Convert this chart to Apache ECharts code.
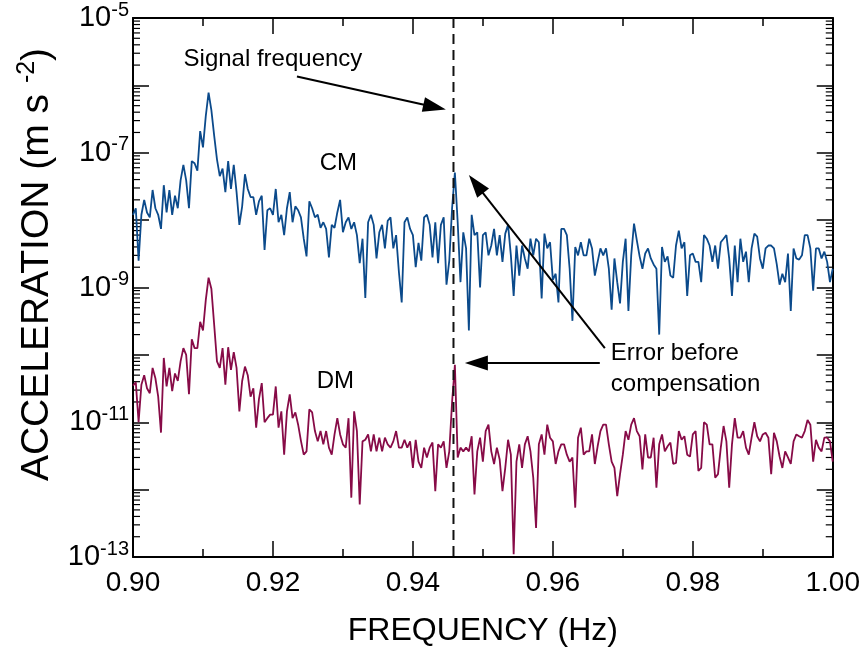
<!DOCTYPE html>
<html>
<head>
<meta charset="utf-8">
<script src="https://cdn.jsdelivr.net/npm/echarts@6/dist/echarts.min.js"></script>
<style>
html,body{margin:0;padding:0;background:#fff;}
#chart{width:863px;height:655px;}
</style>
</head>
<body>
<div id="chart"></div>
<script>
// ---- data ----
const freqStart = 0.90;          // Hz, first spectral bin
const freqStep = 0.0004;         // Hz, bin spacing
const xTickLabels = ['0.90','0.92','0.94','0.96','0.98','1.00'];
const yTickLabels = ['10^-5','10^-7','10^-9','10^-11','10^-13'];
const signalFrequency = 0.9458;

// Common-mode acceleration spectrum (m s^-2)
const cmValues = [
1.2e-8,1.5e-8,2.5e-9,1.2e-8,2e-8,1.3e-8,1.1e-8,2.8e-8,1.5e-8,1.2e-8,
7.4e-9,3.3e-8,1.3e-8,2.8e-8,1.2e-8,2.3e-8,1.5e-8,3.9e-8,6.6e-8,3.9e-8,
1.5e-8,7.5e-8,7e-8,5.4e-8,2.1e-7,1.2e-7,3.5e-7,7.8e-7,4.3e-7,1.8e-7,
8e-8,4.5e-8,5.8e-8,2.6e-8,7.5e-8,2.9e-8,6.6e-8,2.6e-8,8.5e-9,1.6e-8,
4.8e-8,2.9e-8,2.2e-8,2.2e-8,1.2e-8,1.9e-8,2.3e-8,3.6e-9,1.4e-8,1.5e-8,
1.2e-8,2.9e-8,9.3e-9,1.2e-8,6e-9,1.5e-8,2.6e-8,9.3e-9,1.6e-8,1.4e-8,
1.1e-8,5.3e-9,2.9e-9,1.9e-8,
1.5e-8,1.1e-8,1.2e-8,7.7e-9,9.3e-9,7.4e-9,2.8e-9,8.5e-9,7.7e-9,1.3e-8,
2e-8,6.6e-9,9.3e-9,1.1e-8,7.4e-9,9.3e-9,6e-9,2.3e-9,5.3e-9,7e-10,
9.3e-9,1.2e-8,8.5e-9,2.7e-9,6.6e-9,8.5e-9,3.8e-9,9.8e-9,1.1e-8,3.8e-9,
6e-9,1.7e-9,6e-10,9.3e-9,1.1e-8,7.4e-9,6e-9,2e-9,4.6e-9,2.5e-9,
1.1e-8,1.2e-8,8.5e-9,2.8e-9,9.3e-9,2.3e-9,8.5e-9,1.1e-8,1.1e-9,2.5e-9,
1.5e-8,5.1e-8,9.3e-9,1.2e-9,6.6e-9,3.8e-9,2.3e-10,1.2e-8,6e-9,6.6e-9,
1e-9,6e-9,
6.6e-9,3e-9,4.2e-9,7.4e-9,3e-9,6e-9,2.4e-9,6.3e-9,8.5e-9,3e-9,
7.5e-10,4.2e-9,1.5e-9,4.2e-9,2.7e-9,1.9e-9,5.3e-9,3e-9,5.3e-9,4.7e-9,
6.9e-10,6.3e-9,3.8e-9,4.7e-9,1.3e-9,1.6e-9,6e-10,7.4e-9,7.4e-9,6e-9,
1.9e-9,3.2e-10,4e-9,3e-9,4.7e-9,3e-9,3e-9,5.3e-9,3.8e-9,1.5e-9,
2.4e-9,3.8e-9,3e-9,3.8e-9,1.9e-9,4.7e-10,2.7e-9,1.2e-9,5.8e-10,2.4e-9,
5.3e-9,4.5e-10,3e-9,8.9e-9,5e-9,2.9e-9,1.9e-9,3.2e-9,3.8e-9,2.7e-9,
2.2e-9,1.9e-9,2e-10,
4e-9,2.4e-9,2.9e-9,1.5e-9,1.4e-9,4.2e-9,7e-9,3.8e-9,4.7e-9,7.5e-10,
3e-9,3.2e-9,2.4e-9,2.4e-9,1.2e-9,6e-9,5.3e-9,4.2e-9,2.4e-9,4.2e-9,
1.9e-9,4.7e-9,5.3e-9,6e-9,2.7e-9,7.5e-10,4.2e-9,1.2e-9,5.3e-9,2.4e-9,
3.4e-9,1.2e-9,3.8e-9,6.3e-9,5.7e-9,2.7e-9,1.9e-9,3.8e-9,4.2e-9,4.2e-9,
3.8e-9,2.2e-9,1.1e-9,1.6e-9,1.2e-9,3.2e-9,4.5e-10,3.8e-9,2.7e-9,2.6e-9,
3e-9,6e-9,6e-9,3.8e-9,9e-10,3.8e-9,3.8e-9,2.7e-9,3.4e-9,2.4e-9,
1.2e-9,1.9e-9
];

// Differential-mode acceleration spectrum (m s^-2)
const dmValues = [
3.5e-11,3.9e-11,1e-11,3.6e-11,5e-11,3.2e-11,2.7e-11,6.4e-11,4.5e-11,2.4e-11,
7e-12,9e-11,3.4e-11,6.4e-11,2.9e-11,5.3e-11,4.1e-11,8e-11,1.26e-10,1e-10,
2.6e-11,1.7e-10,1.26e-10,1.26e-10,3.1e-10,2.3e-10,6.5e-10,1.4e-9,9.6e-10,2.8e-10,
8e-11,6.4e-11,1.26e-10,3.6e-11,1.3e-10,6e-11,1.1e-10,6.4e-11,1.45e-11,4.1e-11,
6.7e-11,5e-11,2.4e-11,3.2e-11,8.3e-12,2.2e-11,3.8e-11,1e-11,1.15e-11,1.3e-11,
1.3e-11,3.4e-11,8.3e-12,1.45e-11,3.3e-12,1.45e-11,2.6e-11,1.15e-11,1.4e-11,9.2e-12,
5.3e-12,3.3e-12,3.7e-12,1.55e-11,
1.4e-11,7.4e-12,5.2e-12,7.4e-12,4.7e-12,7.4e-12,4.2e-12,3.3e-12,6.6e-12,1.15e-11,
6.6e-12,4.7e-12,4.2e-12,1.15e-11,7.6e-13,1.45e-11,7.4e-12,6e-13,5.2e-12,5.5e-12,
6.6e-12,3.7e-12,6.6e-12,3.7e-12,5.9e-12,3.7e-12,5.9e-12,4.7e-12,4.2e-12,5.2e-12,
7.4e-12,4.2e-12,4.2e-12,5.5e-12,4.2e-12,5.2e-12,2.1e-12,5.5e-12,2.6e-12,2.1e-12,
4.2e-12,3e-12,4.2e-12,5e-12,9.5e-13,4.7e-12,4.2e-12,5.2e-12,2.1e-12,3.7e-12,
2e-11,7.1e-11,3e-12,4.2e-12,3.7e-12,4.2e-12,3.7e-12,6.2e-12,8.5e-13,3.7e-12,
5.9e-12,2.6e-12,
7.4e-12,9.2e-12,3.7e-12,2.4e-12,4.2e-12,2.8e-12,9.5e-13,2.1e-12,5.5e-12,3.3e-12,
1.1e-13,2.6e-12,4.7e-12,2.1e-12,4.7e-12,6.2e-12,3.7e-12,1.5e-12,2.7e-13,4.7e-12,
6.6e-12,3.3e-12,9.2e-12,5.9e-12,5.2e-12,2.4e-12,3.7e-12,4.7e-12,4.7e-12,3.3e-12,
2.6e-12,3e-12,5.4e-13,5.9e-12,8.3e-12,3.3e-12,3.7e-12,3.7e-12,6.6e-12,2.4e-12,
4.4e-12,7.4e-12,9.2e-12,9.2e-12,4.7e-12,2.6e-12,2.1e-12,8e-13,1.7e-12,3.3e-12,
7.4e-12,5.5e-12,9.2e-12,1.15e-11,7.4e-12,6.2e-12,2e-12,6.6e-12,3e-12,3e-12,
5.9e-12,1.07e-12,4.7e-12,
6.6e-12,3.7e-12,4.4e-12,5e-12,2.4e-12,2.5e-12,7.4e-12,5.5e-12,6.2e-12,3.3e-12,
3.1e-12,6.6e-12,7.4e-12,1.9e-12,2.1e-12,1e-11,9.2e-12,4.7e-12,4.7e-12,1.5e-12,
1.7e-12,4.2e-12,8.8e-12,5.2e-12,1.07e-12,4.7e-12,1.15e-11,5.9e-12,5.9e-12,7.4e-12,
4.2e-12,3.3e-12,5.9e-12,1e-11,6.2e-12,5.2e-12,6.6e-12,7e-12,5.9e-12,1.7e-12,
7e-12,5.2e-12,3.1e-12,2.1e-12,3.7e-12,3e-12,2.4e-12,5.2e-12,6.6e-12,6.2e-12,
5.9e-12,7.4e-12,1.08e-11,9.2e-12,2.6e-12,5.5e-12,4.2e-12,3.7e-12,5.9e-12,5.9e-12,
5.2e-12,2.6e-12
];

// Text annotations, anchored in data coordinates [freq, accel]
const annotations = [
  {text:'Signal frequency', at:[0.9200, 2.4e-6], align:'center'},
  {text:'CM', at:[0.92936, 6.9e-8], align:'center'},
  {text:'DM', at:[0.92893, 4.0e-11], align:'center'},
  {text:'Error before', at:[0.96829, 1.06e-10], align:'left'},
  {text:'compensation', at:[0.96829, 3.7e-11], align:'left'}
];
// Arrows [from, to] in data coordinates
const arrows = [
  [[0.92343, 1.35e-6], [0.94471, 4.39e-7]],
  [[0.96743, 1.26e-10], [0.94800, 4.66e-8]],
  [[0.96671, 7.6e-11], [0.94743, 7.6e-11]]
];
const yMinorMultipliers = [2,3,4,5,6,7,8,9];
const yDecadeExponents = [-13,-12,-11,-10,-9,-8,-7,-6];

// ---- chart ----
const FONT = "'Liberation Sans', Arial, Helvetica, sans-serif";
const X_MIN = 0.90, X_MAX = 1.00, Y_MIN = 1e-13, Y_MAX = 1e-5;

const toPairs = arr => arr.map((v, i) => [+(freqStart + i * freqStep).toFixed(5), v]);
const yMinorTicks = [];
yDecadeExponents.forEach(d => yMinorMultipliers.forEach(m => yMinorTicks.push([X_MIN, m * Math.pow(10, d)])));

const chart = echarts.init(document.getElementById('chart'), null, {renderer:'canvas'});

function yLabel(v){
  const e = Math.round(Math.log10(v));
  const key = '10^' + e;
  if (yTickLabels.indexOf(key) < 0) return '';
  return '{b|10}{s|' + e + '}';
}
const tickLine = {color:'#000', width:1.5};
const xAxisCommon = {
  type:'value', min:X_MIN, max:X_MAX, interval:0.02,
  axisLine:{show:true, onZero:false, lineStyle:{color:'#000', width:2}},
  axisTick:{show:true, inside:true, length:16, lineStyle:tickLine},
  minorTick:{show:true, splitNumber:2, length:8, lineStyle:tickLine},
  splitLine:{show:false}, minorSplitLine:{show:false}
};
const yAxisCommon = {
  type:'log', logBase:10, min:Y_MIN, max:Y_MAX, splitNumber:8,
  axisLine:{show:true, onZero:false, lineStyle:{color:'#000', width:2}},
  axisTick:{show:true, inside:true, length:16, lineStyle:tickLine},
  splitLine:{show:false}
};

const option = {
  animation:false,
  backgroundColor:'#ffffff',
  grid:{left:133, right:30, top:15, bottom:98, containLabel:false},
  xAxis:[
    Object.assign({}, xAxisCommon, {
      position:'bottom',
      axisLabel:{formatter: v => {
        const s = v.toFixed(2); return xTickLabels.indexOf(s) >= 0 ? s : ''; },
        fontSize:28, color:'#000', fontFamily:FONT, margin:12},
      name:'FREQUENCY (Hz)', nameLocation:'middle', nameGap:58,
      nameTextStyle:{fontSize:32, color:'#000', fontFamily:FONT}
    }),
    Object.assign({}, xAxisCommon, {position:'top', axisLabel:{show:false}})
  ],
  yAxis:[
    Object.assign({}, yAxisCommon, {
      position:'left',
      axisLabel:{formatter:yLabel, margin:4,
        rich:{
          b:{fontSize:29, fontFamily:FONT, color:'#000'},
          s:{fontSize:20, fontFamily:FONT, color:'#000', padding:[0,0,16,0]}
        }},
      name:'{n|ACCELERATION (m s }{s|-2}{n|)}', nameLocation:'middle', nameRotate:90, nameGap:72,
      nameTextStyle:{padding:[0,0,0,46], rich:{
        n:{fontSize:39, fontFamily:FONT, color:'#000'},
        s:{fontSize:25, fontFamily:FONT, color:'#000', padding:[0,0,20,0]}
      }}
    }),
    Object.assign({}, yAxisCommon, {position:'right', axisLabel:{show:false}})
  ],
  series:[
    {
      name:'CM', type:'line', xAxisIndex:0, yAxisIndex:0,
      data:toPairs(cmValues), showSymbol:false, symbol:'none',
      lineStyle:{color:'#0b4a8b', width:1.8}, z:3
    },
    {
      name:'DM', type:'line', xAxisIndex:0, yAxisIndex:0,
      data:toPairs(dmValues), showSymbol:false, symbol:'none',
      lineStyle:{color:'#870b47', width:1.8}, z:3
    },
    {
      name:'yMinorTicks', type:'custom', xAxisIndex:0, yAxisIndex:0, silent:true, clip:false,
      data:yMinorTicks,
      renderItem:function(params, api){
        const v = api.value(1);
        const pl = api.coord([X_MIN, v]);
        const pr = api.coord([X_MAX, v]);
        return {type:'group', children:[
          {type:'line', shape:{x1:pl[0], y1:pl[1], x2:pl[0]+7, y2:pl[1]}, style:{stroke:'#000', lineWidth:1.2}},
          {type:'line', shape:{x1:pr[0]-7, y1:pr[1], x2:pr[0], y2:pr[1]}, style:{stroke:'#000', lineWidth:1.2}}
        ]};
      }
    }
  ]
};
chart.setOption(option);

// annotations positioned through the chart's own scales
const toPx = p => chart.convertToPixel({xAxisIndex:0, yAxisIndex:0}, p);
const graphics = [];
const lt = toPx([signalFrequency, Y_MAX]), lb = toPx([signalFrequency, Y_MIN]);
graphics.push({type:'line', z:5, shape:{x1:lt[0], y1:lt[1], x2:lb[0], y2:lb[1]},
  style:{stroke:'#111', lineWidth:2, lineDash:[10,6]}});
annotations.forEach(a => {
  const p = toPx(a.at);
  graphics.push({type:'text', x:p[0], y:p[1], z:10,
    style:{text:a.text, fontSize:24, fontFamily:FONT, fill:'#000', align:a.align, verticalAlign:'middle'}});
});
arrows.forEach(([from, to]) => {
  const p0 = toPx(from), p1 = toPx(to);
  const dx = p1[0]-p0[0], dy = p1[1]-p0[1];
  const L = Math.hypot(dx, dy), ux = dx/L, uy = dy/L;
  const headL = 23, headW = 7.5;
  const bx = p1[0]-ux*headL, by = p1[1]-uy*headL;
  const nx = -uy, ny = ux;
  graphics.push({type:'line', z:10, shape:{x1:p0[0], y1:p0[1], x2:bx+ux*3, y2:by+uy*3},
    style:{stroke:'#000', lineWidth:2}});
  graphics.push({type:'polygon', z:10, shape:{points:[[p1[0],p1[1]],[bx+nx*headW, by+ny*headW],[bx-nx*headW, by-ny*headW]]},
    style:{fill:'#000'}});
});
chart.setOption({graphic:graphics});
</script>
</body>
</html>
